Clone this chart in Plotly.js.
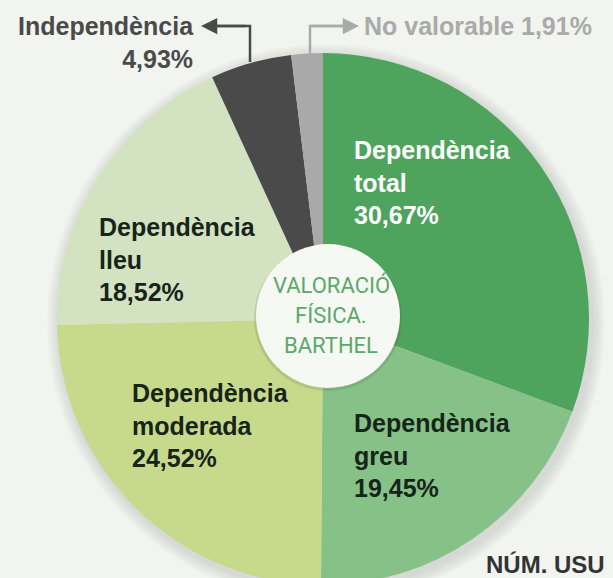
<!DOCTYPE html>
<html>
<head>
<meta charset="utf-8">
<script src="https://cdn.plot.ly/plotly-3.0.1.min.js"></script>
<style>
  html, body { margin: 0; padding: 0; overflow: hidden; background: #f1f4ef; }
  #chart { width: 613px; height: 640px; }
</style>
</head>
<body>
<div id="chart"></div>
<script>
// slices, clockwise from 12 o'clock
var labels = ['Dependència total', 'Dependència greu', 'Dependència moderada',
              'Dependència lleu', 'Independència', 'No valorable'];
var values = [30.67, 19.45, 24.52, 18.52, 4.93, 1.91];
var colors = ['#4fa45d', '#86c188', '#c7d98a', '#d3e3c1', '#4a4a4a', '#a9a9a9'];
var centerLines = ['VALORACIÓ', 'FÍSICA.', 'BARTHEL'];
var footerText = 'NÚM. USU';

var W = 613, H = 640;
function px(x) { return x / W; }
function py(y) { return 1 - y / H; }
function pct(v) { return v.toFixed(2).replace('.', ',') + '%'; }

// pie geometry in pixels
var cx = 323, cy = 319, r = 266;

var pie = {
  type: 'pie',
  labels: labels,
  values: values,
  sort: false,
  direction: 'clockwise',
  rotation: 0,
  textinfo: 'none',
  hoverinfo: 'label+percent',
  marker: {colors: colors, line: {width: 0}},
  domain: {x: [px(cx - r), px(cx + r)], y: [py(cy + r), py(cy - r)]},
  showlegend: false
};

// label boxes inside slices (pixel positions of left edge / middle line)
var labelPos = [
  {x: 352, y: 182, color: '#ffffff'},
  {x: 352, y: 455, color: '#16241a'},
  {x: 130, y: 425, color: '#16241a'},
  {x: 97,  y: 259, color: '#16241a'}
];
var labelFont = 'Liberation Sans, Arial, sans-serif';

var annotations = [];
for (var i = 0; i < 4; i++) {
  var parts = labels[i].split(' ');
  annotations.push({
    xref: 'paper', yref: 'paper',
    x: px(labelPos[i].x), y: py(labelPos[i].y),
    xanchor: 'left', yanchor: 'middle', align: 'left',
    showarrow: false,
    text: '<b>' + parts[0] + '<br>' + parts.slice(1).join(' ') + '<br>' + pct(values[i]) + '</b>',
    font: {family: labelFont, size: 25, color: labelPos[i].color}
  });
}

// Independència (outside, left, with arrow)
annotations.push({
  xref: 'paper', yref: 'paper', x: px(196), y: py(42),
  xanchor: 'right', yanchor: 'middle', align: 'right', showarrow: false,
  text: '<b>' + labels[4] + '<br>' + pct(values[4]) + '</b>',
  font: {family: labelFont, size: 25, color: '#4a4a4a'}
});
annotations.push({
  xref: 'paper', yref: 'paper',
  x: px(201), y: py(26), ax: 46, ay: 0,
  text: '', showarrow: true, arrowhead: 2, arrowsize: 1.3, arrowwidth: 2.5,
  arrowcolor: '#4a4a4a'
});

// No valorable (outside, right, with arrow)
annotations.push({
  xref: 'paper', yref: 'paper', x: px(362), y: py(26),
  xanchor: 'left', yanchor: 'middle', showarrow: false,
  text: '<b>' + labels[5] + ' ' + pct(values[5]) + '</b>',
  font: {family: labelFont, size: 25, color: '#aaaaaa'}
});
annotations.push({
  xref: 'paper', yref: 'paper',
  x: px(359), y: py(26), ax: -50, ay: 0,
  text: '', showarrow: true, arrowhead: 2, arrowsize: 1.3, arrowwidth: 2.5,
  arrowcolor: '#aaaaaa'
});

// centre disc geometry (sits a little right of the pie centre)
var dx = 328, dy = 316, dr = 72;

// centre text
for (var j = 0; j < centerLines.length; j++) {
  annotations.push({
    xref: 'paper', yref: 'paper', x: px(dx + 3), y: py(285 + j * 30),
    xanchor: 'center', yanchor: 'middle', showarrow: false,
    text: centerLines[j],
    font: {family: 'Roboto, sans-serif', size: 22, color: '#5ca86a'}
  });
}

// footer (cut by the frame in the original)
annotations.push({
  xref: 'paper', yref: 'paper', x: px(484), y: py(564),
  xanchor: 'left', yanchor: 'middle', showarrow: false,
  text: '<b>' + footerText + '</b>',
  font: {family: labelFont, size: 24, color: '#333333'}
});

var shapes = [];
// soft shadow behind pie (bottom-right)
for (var k = 1; k <= 5; k++) {
  var rr = r + k * 2.5;
  shapes.push({
    type: 'circle', xref: 'paper', yref: 'paper', layer: 'below',
    x0: px(cx + 3 - rr), x1: px(cx + 3 + rr), y0: py(cy + 4 + rr), y1: py(cy + 4 - rr),
    fillcolor: 'rgba(110,110,120,0.045)', line: {width: 0}
  });
}
// centre disc with a faint shadow
shapes.push({
  type: 'circle', xref: 'paper', yref: 'paper', layer: 'above',
  x0: px(dx - dr - 2), x1: px(dx + dr + 2), y0: py(dy + dr + 3), y1: py(dy - dr + 1),
  fillcolor: 'rgba(60,80,60,0.15)', line: {width: 0}
});
shapes.push({
  type: 'circle', xref: 'paper', yref: 'paper', layer: 'above',
  x0: px(dx - dr), x1: px(dx + dr), y0: py(dy + dr), y1: py(dy - dr),
  fillcolor: '#f6f8f3', line: {width: 0}
});
// leader lines
shapes.push({
  type: 'path', xref: 'paper', yref: 'paper', layer: 'above',
  path: 'M ' + px(250) + ' ' + py(62) + ' L ' + px(250) + ' ' + py(26) + ' L ' + px(212) + ' ' + py(26),
  line: {color: '#4a4a4a', width: 2.5}
});
shapes.push({
  type: 'path', xref: 'paper', yref: 'paper', layer: 'above',
  path: 'M ' + px(310) + ' ' + py(54) + ' L ' + px(310) + ' ' + py(26) + ' L ' + px(350) + ' ' + py(26),
  line: {color: '#aaaaaa', width: 2.5}
});

var layout = {
  width: W, height: H,
  margin: {l: 0, r: 0, t: 0, b: 0},
  paper_bgcolor: '#f1f4ef',
  plot_bgcolor: '#f1f4ef',
  annotations: annotations,
  shapes: shapes,
  showlegend: false
};

Plotly.newPlot('chart', [pie], layout, {displayModeBar: false, staticPlot: true});
</script>
</body>
</html>
